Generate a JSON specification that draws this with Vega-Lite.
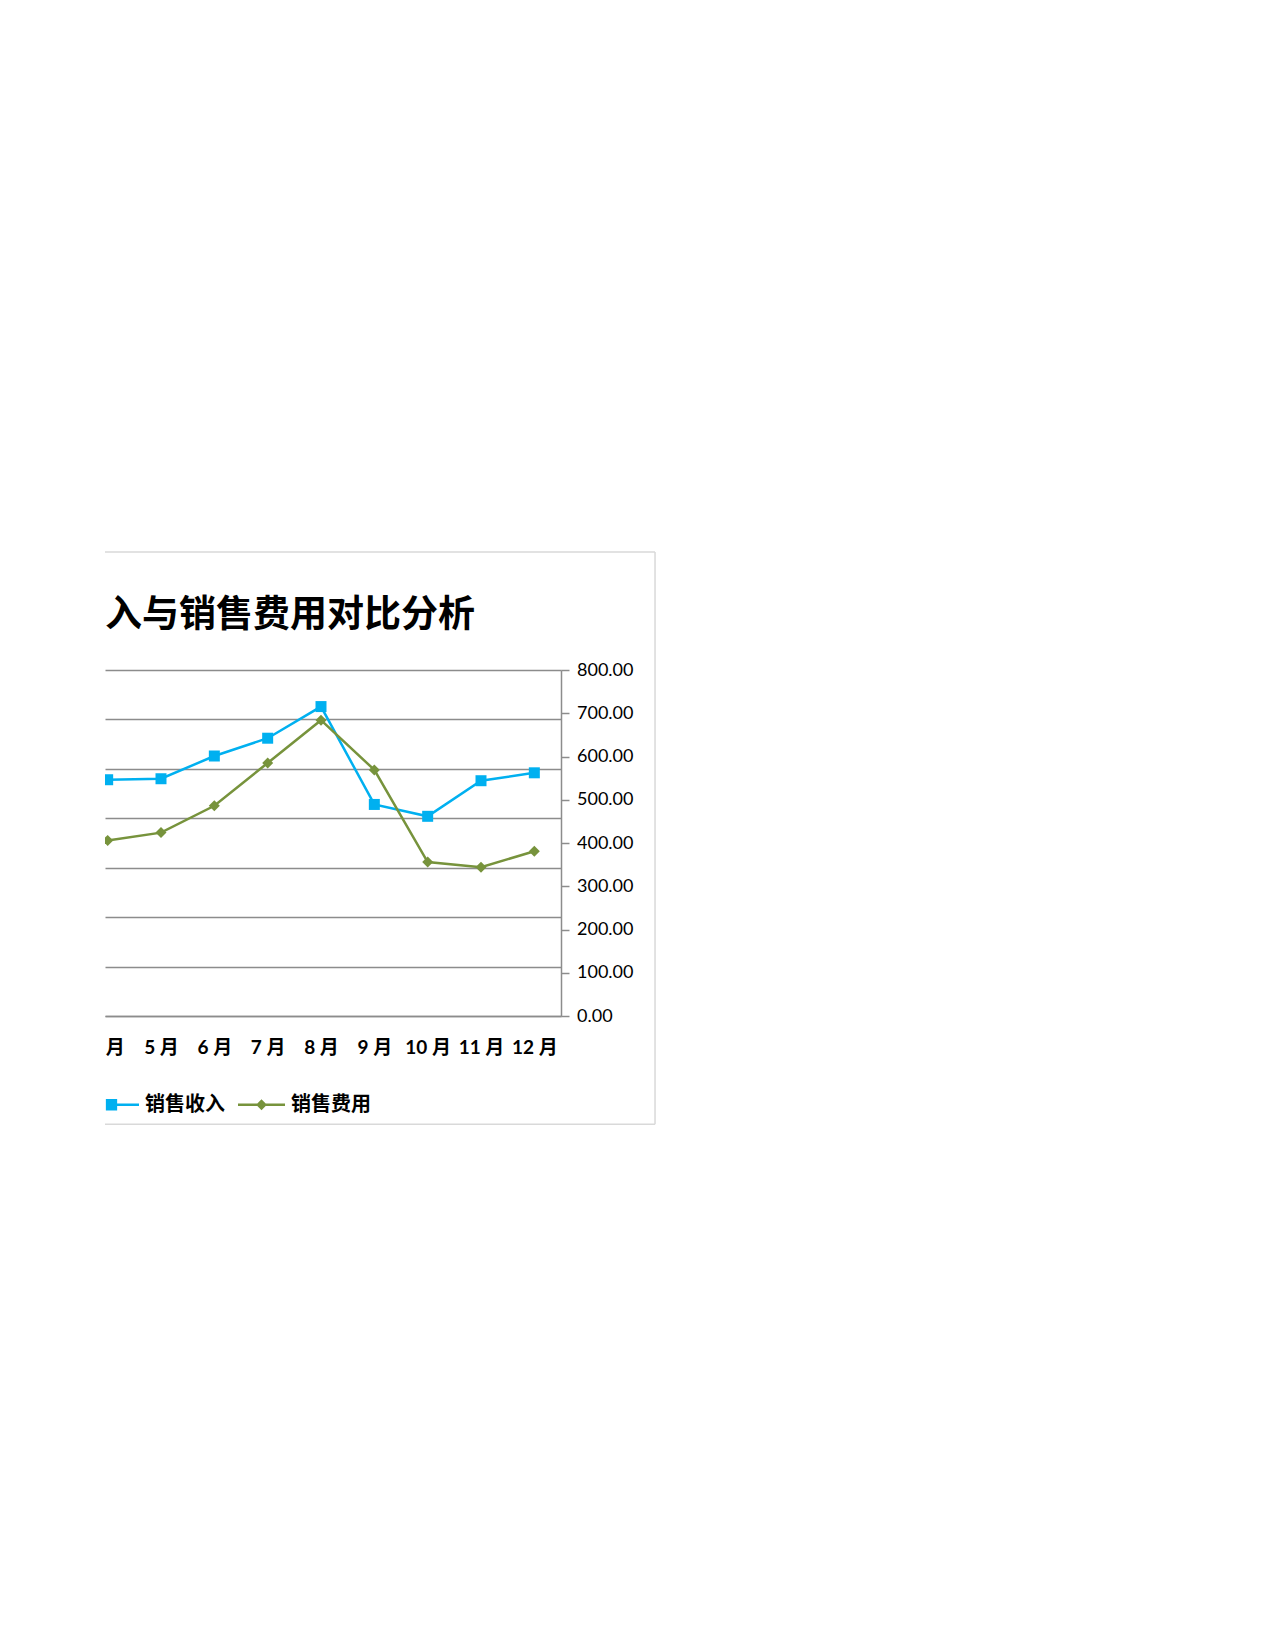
{
  "$schema": "https://vega.github.io/schema/vega-lite/v6.json",
  "autosize": {"type": "none"},
  "width": 456,
  "height": 346,
  "padding": {"left": 105, "top": 670, "right": 714, "bottom": 634},
  "background": "white",
  "config": {"view": {"stroke": null}},
  "data": {
    "values": [
      {"month": 4, "series": "销售收入", "value": 478},
      {"month": 5, "series": "销售收入", "value": 480},
      {"month": 6, "series": "销售收入", "value": 526},
      {"month": 7, "series": "销售收入", "value": 562},
      {"month": 8, "series": "销售收入", "value": 626},
      {"month": 9, "series": "销售收入", "value": 428},
      {"month": 10, "series": "销售收入", "value": 404},
      {"month": 11, "series": "销售收入", "value": 476},
      {"month": 12, "series": "销售收入", "value": 492},
      {"month": 4, "series": "销售费用", "value": 406},
      {"month": 5, "series": "销售费用", "value": 424},
      {"month": 6, "series": "销售费用", "value": 486},
      {"month": 7, "series": "销售费用", "value": 585},
      {"month": 8, "series": "销售费用", "value": 684},
      {"month": 9, "series": "销售费用", "value": 569},
      {"month": 10, "series": "销售费用", "value": 356},
      {"month": 11, "series": "销售费用", "value": 344},
      {"month": 12, "series": "销售费用", "value": 381}
    ]
  },
  "title": {
    "text": "入与销售费用对比分析",
    "anchor": "start",
    "frame": "group",
    "font": "Noto Sans CJK SC",
    "fontSize": 37,
    "fontWeight": "bold",
    "color": "#000000",
    "offset": -84
  },
  "layer": [
    {
      "transform": [{"filter": "datum.series === '销售收入'"}],
      "encoding": {
        "x": {
          "field": "month", "type": "quantitative",
          "scale": {"domain": [3.95, 12.5], "nice": false, "zero": false},
          "axis": {
            "values": [4, 4.5, 5, 5.5, 6, 6.5, 7, 7.5, 8, 8.5, 9, 9.5, 10, 10.5, 11, 11.5, 12, 12.5],
            "labelExpr": "datum.value == 4 ? '月' : (datum.value % 1 == 0 ? datum.value + ' 月' : '')",
            "labelOverlap": false, "labelFlush": false, "labelBound": false,
            "tickOpacity": {"condition": {"test": "datum.value % 1 == 0", "value": 0}, "value": 1},
            "labelOffset": {"condition": {"test": "datum.value == 4", "value": 7}, "value": 0},
            "tickSize": 8, "tickColor": "#8c8c8c", "tickWidth": 1.5,
            "domainColor": "#8c8c8c", "domainWidth": 1.5,
            "labelFont": "Lato, 'Noto Sans CJK SC'", "labelFontSize": 19, "labelFontWeight": "bold",
            "labelColor": "#000000", "labelPadding": 14, "title": null, "grid": false
          }
        },
        "y": {
          "field": "value", "type": "quantitative",
          "scale": {"domain": [0, 700], "nice": false, "zero": false},
          "axis": {
            "orient": "left", "values": [0, 100, 200, 300, 400, 500, 600, 700],
            "grid": true, "gridColor": "#8c8c8c", "gridWidth": 1.5,
            "labels": false, "ticks": false, "domain": false, "title": null
          }
        },
        "color": {
          "field": "series", "type": "nominal",
          "scale": {"domain": ["销售收入", "销售费用"], "range": ["#00B0F0", "#77933C"]},
          "legend": {
            "orient": "none", "legendX": -13, "legendY": 411, "direction": "horizontal",
            "title": null, "symbolSize": 2209, "symbolOpacity": 1,
            "labelFont": "Noto Sans CJK SC", "labelFontSize": 20, "labelFontWeight": "bold",
            "labelColor": "#000000", "labelOffset": 6, "columnPadding": 13, "padding": 0,
            "encode": {
              "symbols": {
                "update": {
                  "shape": {"signal": "datum.value === '销售收入' ? 'M-0.41,-0.055H1V0.055H-0.41ZM-0.41,-0.24H0.07V0.24H-0.41Z' : 'M-1,-0.055H1V0.055H-1ZM0,-0.23L0.23,0L0,0.23L-0.23,0Z'"},
                  "fill": {"scale": "color", "field": "value"},
                  "stroke": {"value": "transparent"},
                  "strokeWidth": {"value": 0}
                }
              }
            }
          }
        }
      },
      "layer": [
        {"mark": {"type": "line", "strokeWidth": 2.5, "clip": true}},
        {"mark": {"type": "point", "shape": "square", "size": 121, "filled": true, "opacity": 1, "clip": true}}
      ]
    },
    {
      "layer": [
        {
          "data": {"values": [{}]},
          "mark": {"type": "rule", "stroke": "#d9d9d9", "strokeWidth": 1.5, "clip": false},
          "encoding": {
            "x": {"datum": 3.95, "type": "quantitative", "scale": {"domain": [3.95, 12.5], "nice": false, "zero": false}},
            "x2": {"datum": 14.263},
            "y": {"datum": 1073, "type": "quantitative", "scale": {"domain": [0, 800], "nice": false, "zero": false}}
          }
        },
        {
          "data": {"values": [{}]},
          "mark": {"type": "rule", "stroke": "#d9d9d9", "strokeWidth": 1.5, "clip": false},
          "encoding": {
            "x": {"datum": 14.263, "type": "quantitative", "scale": {"domain": [3.95, 12.5], "nice": false, "zero": false}},
            "y": {"datum": 1073, "type": "quantitative", "scale": {"domain": [0, 800], "nice": false, "zero": false}},
            "y2": {"datum": -250.3}
          }
        },
        {
          "data": {"values": [{}]},
          "mark": {"type": "rule", "stroke": "#d9d9d9", "strokeWidth": 1.5, "clip": false},
          "encoding": {
            "x": {"datum": 3.95, "type": "quantitative", "scale": {"domain": [3.95, 12.5], "nice": false, "zero": false}},
            "x2": {"datum": 14.263},
            "y": {"datum": -250.3, "type": "quantitative", "scale": {"domain": [0, 800], "nice": false, "zero": false}}
          }
        },
        {
          "transform": [{"filter": "datum.series === '销售费用'"}],
          "encoding": {
            "x": {
              "field": "month", "type": "quantitative",
              "scale": {"domain": [3.95, 12.5], "nice": false, "zero": false},
              "axis": {
                "values": [4, 4.5, 5, 5.5, 6, 6.5, 7, 7.5, 8, 8.5, 9, 9.5, 10, 10.5, 11, 11.5, 12, 12.5],
                "labelExpr": "datum.value == 4 ? '月' : (datum.value % 1 == 0 ? datum.value + ' 月' : '')",
                "labelOverlap": false, "labelFlush": false, "labelBound": false,
                "tickOpacity": {"condition": {"test": "datum.value % 1 == 0", "value": 0}, "value": 1},
                "labelOffset": {"condition": {"test": "datum.value == 4", "value": 7}, "value": 0},
                "tickSize": 8, "tickColor": "#8c8c8c", "tickWidth": 1.5,
                "domainColor": "#8c8c8c", "domainWidth": 1.5,
                "labelFont": "Lato, 'Noto Sans CJK SC'", "labelFontSize": 19, "labelFontWeight": "bold",
                "labelColor": "#000000", "labelPadding": 14, "title": null, "grid": false
              }
            },
            "y": {
              "field": "value", "type": "quantitative",
              "scale": {"domain": [0, 800], "nice": false, "zero": false},
              "axis": {
                "orient": "right", "values": [0, 100, 200, 300, 400, 500, 600, 700, 800],
                "format": ".2f", "grid": false,
                "labelFont": "Lato", "labelFontSize": 18, "labelColor": "#000000", "labelPadding": 7.5,
                "tickSize": 8, "tickColor": "#8c8c8c", "tickWidth": 1.5,
                "domainColor": "#8c8c8c", "domainWidth": 1.5, "title": null
              }
            },
            "color": {
              "field": "series", "type": "nominal",
              "scale": {"domain": ["销售收入", "销售费用"], "range": ["#00B0F0", "#77933C"]},
              "legend": null
            }
          },
          "layer": [
            {"mark": {"type": "line", "strokeWidth": 2.5, "clip": true}},
            {"mark": {"type": "point", "shape": "diamond", "size": 121, "filled": true, "opacity": 1, "clip": true}}
          ]
        }
      ]
    }
  ],
  "resolve": {"scale": {"y": "independent"}}
}
